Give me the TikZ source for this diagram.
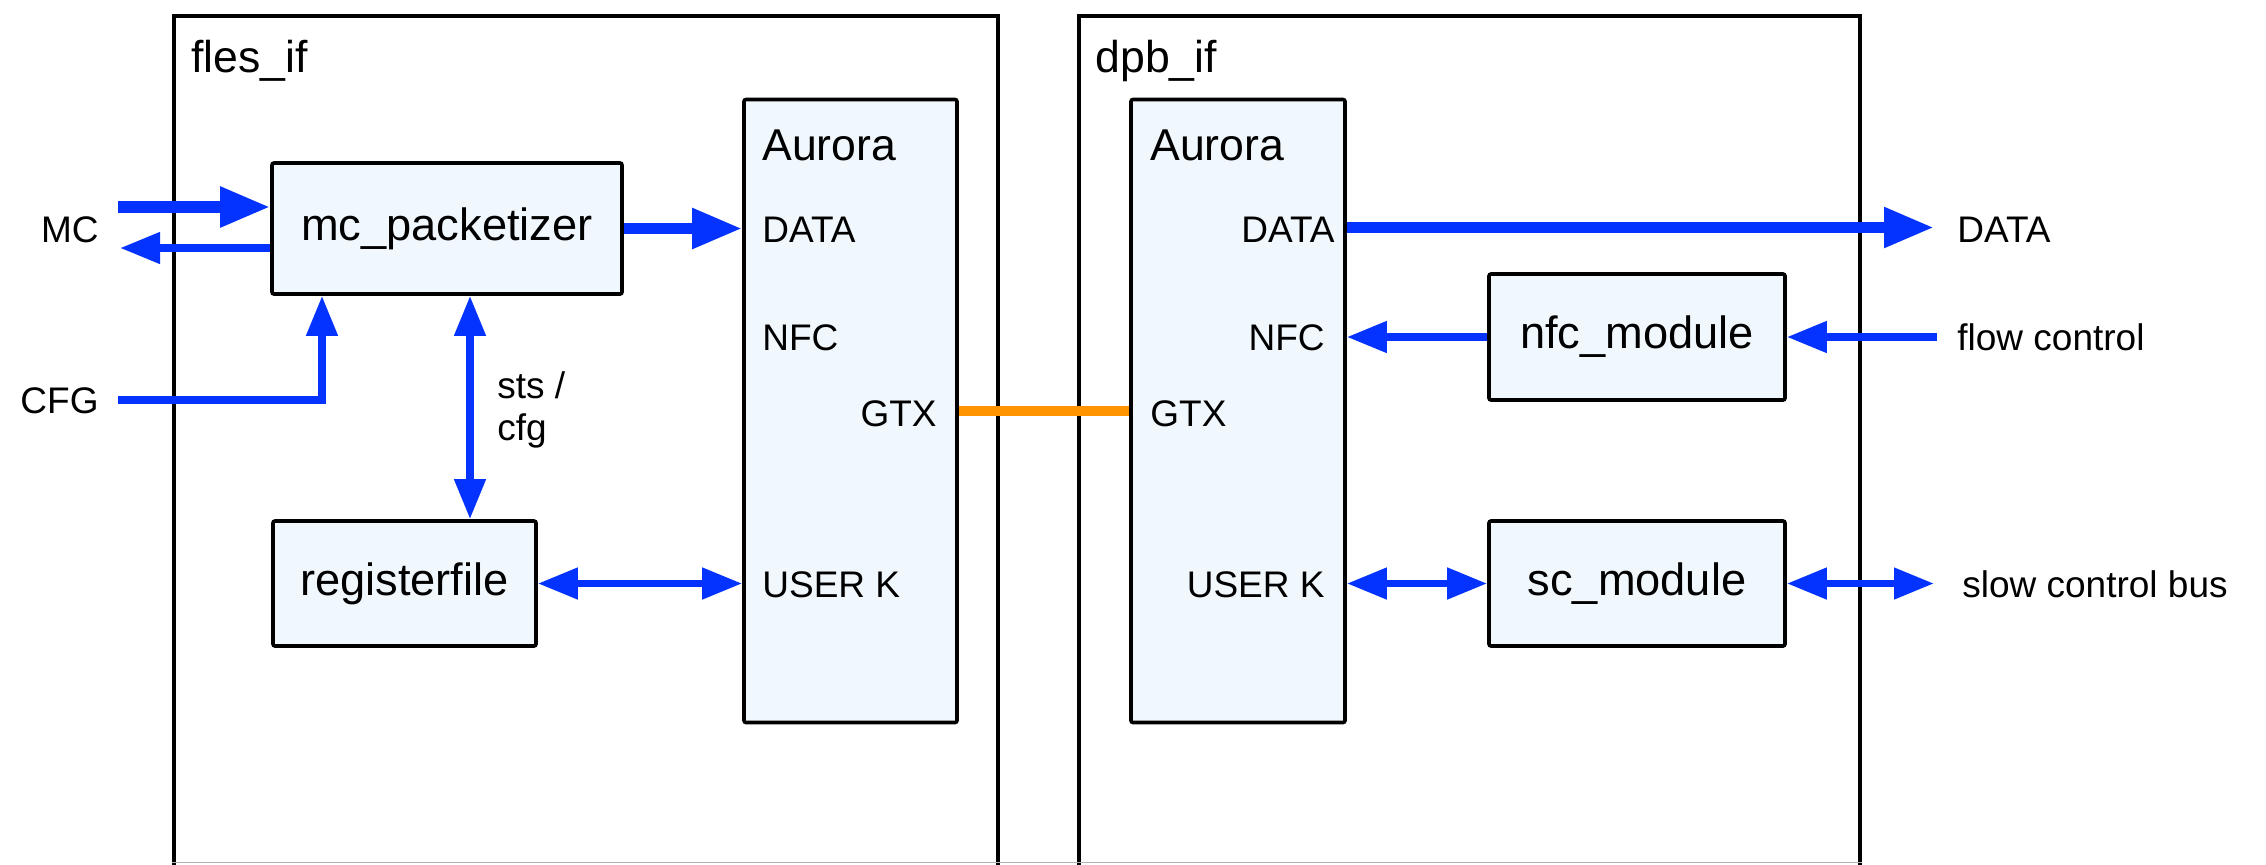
\documentclass[tikz,border=0pt]{standalone}
\usepackage{fontspec}
\setmainfont{Liberation Sans}
\usetikzlibrary{arrows.meta}
\definecolor{sigblue}{RGB}{4,51,255}
\definecolor{linkorange}{RGB}{255,147,0}
\definecolor{blockfill}{RGB}{240,247,253}
\tikzset{
  container/.style={draw=black, line width=1.8pt},
  blk/.style={draw=black, line width=1.8pt, fill=blockfill, rounded corners=1pt,
    inner sep=0pt, font=\fontsize{22.6}{26}\selectfont},
  bigtxt/.style={inner sep=0pt, font=\fontsize{22.3}{26}\selectfont},
  smalltxt/.style={inner sep=0pt, font=\fontsize{18.5}{22}\selectfont},
  busarrow/.style={draw=sigblue, line width=5.6pt, -{Triangle[length=25pt,width=19pt]}},
  sigarrow/.style={draw=sigblue, line width=3.75pt, -{Triangle[length=20pt,width=15pt]}},
  sigboth/.style={draw=sigblue, line width=3.75pt,
    {Triangle[length=20pt,width=15pt]}-{Triangle[length=20pt,width=15pt]}},
  serial/.style={draw=linkorange, line width=5.3pt}
}
\begin{document}
\begin{tikzpicture}[x=0.5pt,y=-0.5pt]
\useasboundingbox (0,0) rectangle (2266,864);
\fill[white] (0,0) rectangle (2266,864);

% enclosing interfaces
\draw[container] (174,16) rectangle (998,880);
\draw[container] (1079,16) rectangle (1860,880);
\draw[black!30, line width=0.8pt] (172,862.5) -- (1862,862.5);
\node[bigtxt, anchor=base west] (flesif) at (191,72) {fles\_if};
\node[bigtxt, anchor=base west] (dpbif) at (1095,72) {dpb\_if};

% blocks
\node[blk, minimum width=175pt, minimum height=65.5pt] (mcp) at (447,228.5) {mc\_packetizer};
\node[blk, minimum width=131.5pt, minimum height=62.5pt] (regf) at (404.5,583.5) {registerfile};
\node[blk, minimum width=106.5pt, minimum height=311.5pt] (aurL) at (850.5,411) {};
\node[blk, minimum width=107pt, minimum height=311.5pt] (aurR) at (1238,411) {};
\node[blk, minimum width=148pt, minimum height=63pt] (nfc) at (1637,337) {nfc\_module};
\node[blk, minimum width=148pt, minimum height=62.5pt] (sc) at (1637,583.5) {sc\_module};

% Aurora port labels
\node[bigtxt, anchor=base west] (aurLt) at (762,160) {Aurora};
\node[smalltxt, anchor=base west] (lData) at (762,242) {DATA};
\node[smalltxt, anchor=base west] (lNfc) at (762,350) {NFC};
\node[smalltxt, anchor=base east] (lGtx) at (937,426) {GTX};
\node[smalltxt, anchor=base west] (lUser) at (762,597) {USER K};

\node[bigtxt, anchor=base west] (aurRt) at (1150,160) {Aurora};
\node[smalltxt, anchor=base east] (rData) at (1335,242) {DATA};
\node[smalltxt, anchor=base east] (rNfc) at (1325,350) {NFC};
\node[smalltxt, anchor=base west] (rGtx) at (1150,426) {GTX};
\node[smalltxt, anchor=base east] (rUser) at (1325,597) {USER K};

% external labels
\node[smalltxt, anchor=base east] (mcl) at (99,242) {MC};
\node[smalltxt, anchor=base east] (cfgl) at (99,413) {CFG};
\node[smalltxt, anchor=base west] (stsl) at (497,398) {sts /};
\node[smalltxt, anchor=base west] (cfgsl) at (497,440) {cfg};
\node[smalltxt, anchor=base west] (dataol) at (1957,242) {DATA};
\node[smalltxt, anchor=base west] (fcl) at (1957,350) {flow control};
\node[smalltxt, anchor=base west] (scbl) at (1962,597) {slow control bus};

% free ends of connectors
\coordinate (mcin) at (118,207);
\coordinate (mcout) at (120,248);
\coordinate (cfgin) at (118,400);
\coordinate (cfgturn) at (322,400);
\coordinate (stsx) at (470,0);
\coordinate (dataout) at (1934,227.5);
\coordinate (fcin) at (1937,337);
\coordinate (scbus) at (1934,583.5);

% fles_if connections
\draw[busarrow] (mcin) -- (mcin -| mcp.west);
\draw[sigarrow] (mcout -| mcp.west) -- (mcout);
\draw[sigarrow] (cfgin) -- (cfgturn) -- (cfgturn |- mcp.south);
\draw[sigboth] (stsx |- mcp.south) -- (stsx |- regf.north);
\draw[busarrow] (mcp.east) -- (mcp.east -| aurL.west);
\draw[sigboth] (regf.east) -- (regf.east -| aurL.west);

% serial link
\draw[serial] (aurL.east) -- (aurR.west);

% dpb_if connections
\draw[busarrow] (dataout -| aurR.east) -- (dataout);
\draw[sigarrow] (nfc.west) -- (nfc.west -| aurR.east);
\draw[sigarrow] (fcin) -- (fcin -| nfc.east);
\draw[sigboth] (sc.west -| aurR.east) -- (sc.west);
\draw[sigboth] (sc.east) -- (scbus);
\end{tikzpicture}
\end{document}
